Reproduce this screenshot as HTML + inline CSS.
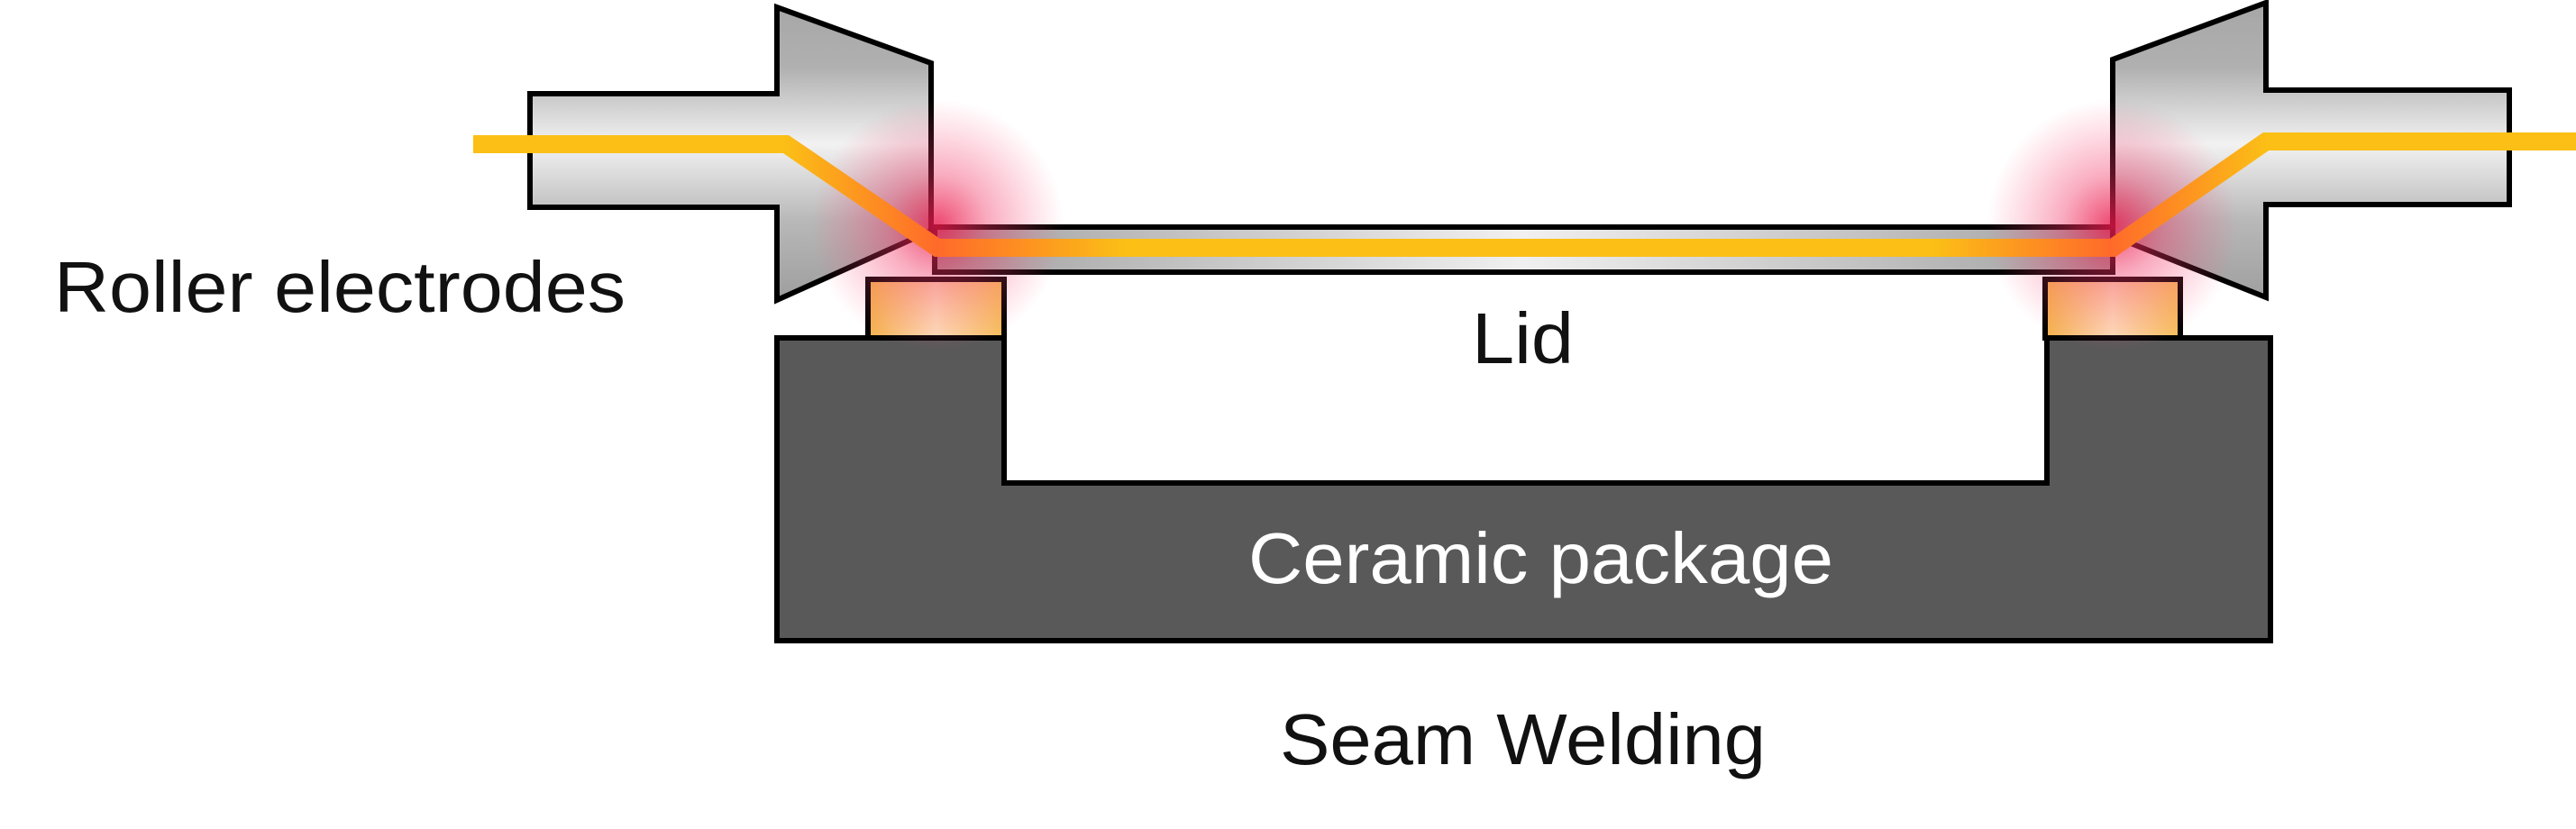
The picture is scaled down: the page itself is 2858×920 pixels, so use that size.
<!DOCTYPE html>
<html><head><meta charset="utf-8"><style>html,body{margin:0;padding:0;background:#fff}svg{display:block}</style></head>
<body>
<svg width="2858" height="920" viewBox="0 0 2858 920" xmlns="http://www.w3.org/2000/svg">
<defs>
<linearGradient id="eg" gradientUnits="userSpaceOnUse" x1="0" y1="0" x2="0" y2="340">
<stop offset="0" stop-color="#a6a6a6"/><stop offset="0.22" stop-color="#b0b0b0"/>
<stop offset="0.47" stop-color="#f2f2f2"/><stop offset="0.72" stop-color="#b8b8b8"/><stop offset="1" stop-color="#9c9c9c"/>
</linearGradient>
<linearGradient id="lg" gradientUnits="userSpaceOnUse" x1="1036" y1="0" x2="2344" y2="0">
<stop offset="0" stop-color="#a0a0a0"/><stop offset="0.5" stop-color="#f0f0f0"/><stop offset="1" stop-color="#a0a0a0"/>
</linearGradient>
<linearGradient id="pg" x1="0" y1="0" x2="1" y2="0">
<stop offset="0" stop-color="#f4b04a"/><stop offset="0.5" stop-color="#fde4bd"/><stop offset="1" stop-color="#f6bc58"/>
</linearGradient>
<radialGradient id="glow">
<stop offset="0" stop-color="#e8184a" stop-opacity="0.8"/><stop offset="0.4" stop-color="#f03060" stop-opacity="0.4"/><stop offset="1" stop-color="#ff5080" stop-opacity="0"/>
</radialGradient>
<linearGradient id="wl" gradientUnits="userSpaceOnUse" x1="870" y1="0" x2="1500" y2="0">
<stop offset="0" stop-color="#fbbf16"/><stop offset="0.27" stop-color="#ff6a2a"/><stop offset="0.6" stop-color="#fbbf16"/>
</linearGradient>
<linearGradient id="wr" gradientUnits="userSpaceOnUse" x1="1900" y1="0" x2="2514" y2="0">
<stop offset="0.4" stop-color="#fbbf16"/><stop offset="0.72" stop-color="#ff6a2a"/><stop offset="1" stop-color="#fbbf16"/>
</linearGradient>
</defs>

<path d="M862 375 H1114 V536 H2271 V375 H2519 V711 H862 Z" fill="#595959" stroke="#000" stroke-width="6"/>
<rect x="963" y="310" width="151" height="65" fill="url(#pg)" stroke="#000" stroke-width="6"/>
<rect x="2269" y="310" width="150" height="65" fill="url(#pg)" stroke="#000" stroke-width="6"/>
<rect x="1037" y="252" width="1307" height="50" fill="url(#lg)" stroke="#000" stroke-width="6"/>
<path d="M588 104 H862 V8 L1033 70 V256 L862 333 V230 H588 Z" fill="url(#eg)" stroke="#000" stroke-width="6"/>
<path d="M2784 100 H2514 V3 L2344 66 V262 L2514 330 V227 H2784 Z" fill="url(#eg)" stroke="#000" stroke-width="6"/>
<ellipse cx="1040" cy="250" rx="140" ry="140" fill="url(#glow)"/>
<ellipse cx="2344" cy="250" rx="140" ry="140" fill="url(#glow)"/>
<path d="M525 160 H872 L1040 275 H1690" fill="none" stroke="url(#wl)" stroke-width="20"/>
<path d="M1690 275 H2344 L2514 157 H2858" fill="none" stroke="url(#wr)" stroke-width="20"/>

<g font-family="Liberation Sans, DejaVu Sans, sans-serif" font-size="80">
<text x="60" y="346" textLength="634" lengthAdjust="spacingAndGlyphs" fill="#111">Roller electrodes</text>
<text x="1633" y="403" textLength="113" lengthAdjust="spacingAndGlyphs" fill="#111">Lid</text>
<text x="1385" y="647" textLength="649" lengthAdjust="spacingAndGlyphs" fill="#fff">Ceramic package</text>
<text x="1420" y="848" textLength="539" lengthAdjust="spacingAndGlyphs" fill="#111">Seam Welding</text>
</g>
</svg>
</body></html>
